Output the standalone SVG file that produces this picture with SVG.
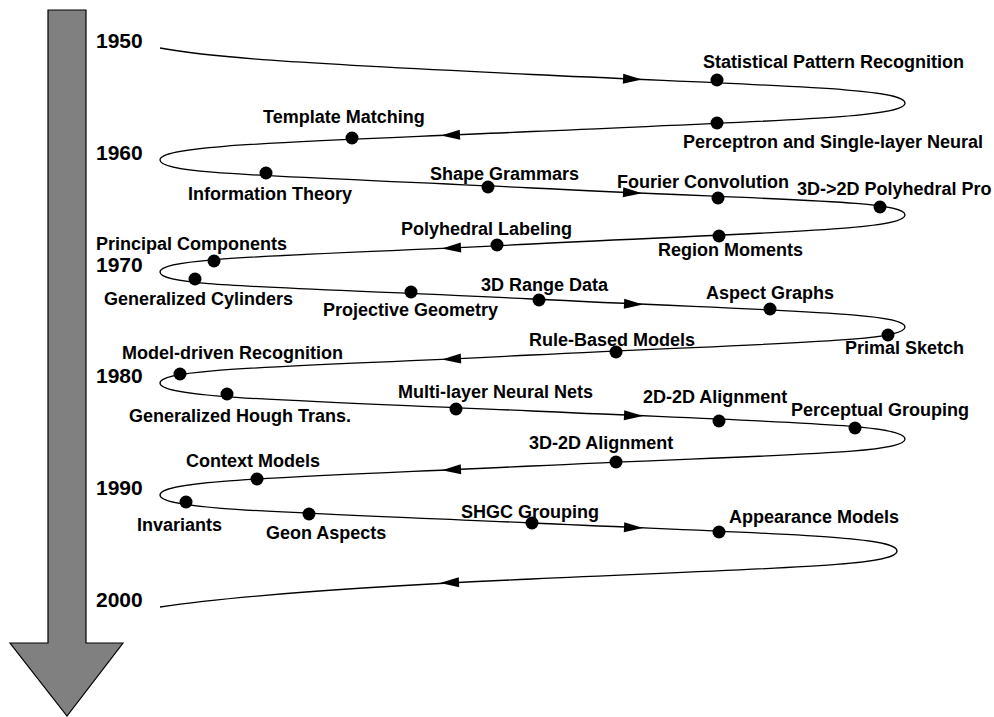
<svg xmlns="http://www.w3.org/2000/svg" xmlns:xlink="http://www.w3.org/1999/xlink" width="994" height="717" viewBox="0 0 994 717">
<style>
text{font-family:"Liberation Sans",Arial,sans-serif;font-weight:bold;fill:#000}
.lbl{font-size:18px}
.yr{font-size:21px}
.dot{fill:#000}
.curve{fill:none;stroke:#000;stroke-width:1.3}
.ah{fill:#000}
</style>
<defs>
<polygon id="arr" points="0,0 -19,-5 -19,5"/>
</defs>
<rect width="994" height="717" fill="#fff"/>
<g id="timeline">
<polygon points="48,10 86,10 86,643 123,643 67,716 10,643 48,643" fill="#808080" stroke="#000" stroke-width="1.2"/>
</g>
<g id="years">
<text class="yr" x="96" y="48">1950</text>
<text class="yr" x="96" y="160">1960</text>
<text class="yr" x="96" y="272">1970</text>
<text class="yr" x="96" y="383">1980</text>
<text class="yr" x="96" y="495">1990</text>
<text class="yr" x="96" y="607">2000</text>
</g>
<g id="connectors">
<path class="curve" d="M160,48 C210,57 282,62.75 532,74.5 C782,86.25 905,88 905,103
C905,118 782,120.25 532,131.5 C282,142.75 160,145 160,160
C160,175 282,175.5 532,188 C782,200.5 905,200 905,215
C905,230 782,231.5 532,244 C282,256.5 160,257 160,272
C160,287 282,286.5 532,299 C782,311.5 905,312 905,327
C905,342 782,342.5 532,355 C282,367.5 160,368 160,383
C160,398 282,399.75 532,411 C782,422.25 905,424 905,439
C905,454 782,454.25 532,466 C282,477.75 160,480 160,495
C160,510 282,511.75 532,523 C782,534.25 897,536 897,551
C897,566 782,567.75 532,579 C282,590.25 200,601 160,607"/>
<use xlink:href="#arr" class="ah" transform="translate(642,79.6) rotate(2.7)"/>
<use xlink:href="#arr" class="ah" transform="translate(441,135.6) rotate(177.4)"/>
<use xlink:href="#arr" class="ah" transform="translate(642,193.3) rotate(2.9)"/>
<use xlink:href="#arr" class="ah" transform="translate(442,248.5) rotate(177.1)"/>
<use xlink:href="#arr" class="ah" transform="translate(643,304.6) rotate(2.9)"/>
<use xlink:href="#arr" class="ah" transform="translate(442,359.5) rotate(177.1)"/>
<use xlink:href="#arr" class="ah" transform="translate(643,416) rotate(2.6)"/>
<use xlink:href="#arr" class="ah" transform="translate(442,470.2) rotate(177.3)"/>
<use xlink:href="#arr" class="ah" transform="translate(643,528) rotate(2.6)"/>
<use xlink:href="#arr" class="ah" transform="translate(440,583.1) rotate(177.4)"/>
</g>
<g id="n-statistical"><circle class="dot" cx="717" cy="80" r="6.5"/><text class="lbl" x="703" y="68">Statistical Pattern Recognition</text></g>
<g id="n-perceptron"><circle class="dot" cx="717" cy="123" r="6.5"/><text class="lbl" x="683" y="148">Perceptron and Single-layer Neural</text></g>
<g id="n-template"><circle class="dot" cx="352" cy="138" r="6.5"/><text class="lbl" x="263" y="123">Template Matching</text></g>
<g id="n-information"><circle class="dot" cx="266" cy="173" r="6.5"/><text class="lbl" x="188" y="200">Information Theory</text></g>
<g id="n-shape"><circle class="dot" cx="488" cy="187" r="6.5"/><text class="lbl" x="430" y="180">Shape Grammars</text></g>
<g id="n-fourier"><circle class="dot" cx="718" cy="198" r="6.5"/><text class="lbl" x="617" y="188">Fourier Convolution</text></g>
<g id="n-3d2dproj"><circle class="dot" cx="880" cy="207" r="6.5"/><text class="lbl" x="797" y="195">3D-&gt;2D Polyhedral Pro</text></g>
<g id="n-region"><circle class="dot" cx="719" cy="236" r="6.5"/><text class="lbl" x="658" y="256">Region Moments</text></g>
<g id="n-polylabel"><circle class="dot" cx="497" cy="245" r="6.5"/><text class="lbl" x="401" y="235">Polyhedral Labeling</text></g>
<g id="n-principal"><circle class="dot" cx="214" cy="261" r="6.5"/><text class="lbl" x="96" y="250">Principal Components</text></g>
<g id="n-gencyl"><circle class="dot" cx="195" cy="279" r="6.5"/><text class="lbl" x="104" y="305">Generalized Cylinders</text></g>
<g id="n-projective"><circle class="dot" cx="411" cy="292" r="6.5"/><text class="lbl" x="323" y="316">Projective Geometry</text></g>
<g id="n-range"><circle class="dot" cx="539" cy="300" r="6.5"/><text class="lbl" x="481" y="291">3D Range Data</text></g>
<g id="n-aspect"><circle class="dot" cx="770" cy="309" r="6.5"/><text class="lbl" x="706" y="299">Aspect Graphs</text></g>
<g id="n-primal"><circle class="dot" cx="888" cy="335" r="6.5"/><text class="lbl" x="845" y="354">Primal Sketch</text></g>
<g id="n-rule"><circle class="dot" cx="616" cy="352" r="6.5"/><text class="lbl" x="529" y="346">Rule-Based Models</text></g>
<g id="n-model"><circle class="dot" cx="180" cy="374" r="6.5"/><text class="lbl" x="122" y="359">Model-driven Recognition</text></g>
<g id="n-hough"><circle class="dot" cx="227" cy="394" r="6.5"/><text class="lbl" x="129" y="422">Generalized Hough Trans.</text></g>
<g id="n-multilayer"><circle class="dot" cx="456" cy="409" r="6.5"/><text class="lbl" x="398" y="398">Multi-layer Neural Nets</text></g>
<g id="n-2d2d"><circle class="dot" cx="719" cy="421" r="6.5"/><text class="lbl" x="643" y="403">2D-2D Alignment</text></g>
<g id="n-perceptual"><circle class="dot" cx="855" cy="428" r="6.5"/><text class="lbl" x="791" y="416">Perceptual Grouping</text></g>
<g id="n-3d2d"><circle class="dot" cx="616" cy="462" r="6.5"/><text class="lbl" x="529" y="449">3D-2D Alignment</text></g>
<g id="n-context"><circle class="dot" cx="257" cy="479" r="6.5"/><text class="lbl" x="186" y="467">Context Models</text></g>
<g id="n-invariants"><circle class="dot" cx="186" cy="502" r="6.5"/><text class="lbl" x="137" y="531">Invariants</text></g>
<g id="n-geon"><circle class="dot" cx="309" cy="514" r="6.5"/><text class="lbl" x="266" y="539">Geon Aspects</text></g>
<g id="n-shgc"><circle class="dot" cx="532" cy="523" r="6.5"/><text class="lbl" x="461" y="518">SHGC Grouping</text></g>
<g id="n-appearance"><circle class="dot" cx="719" cy="532" r="6.5"/><text class="lbl" x="729" y="523">Appearance Models</text></g>
</svg>
